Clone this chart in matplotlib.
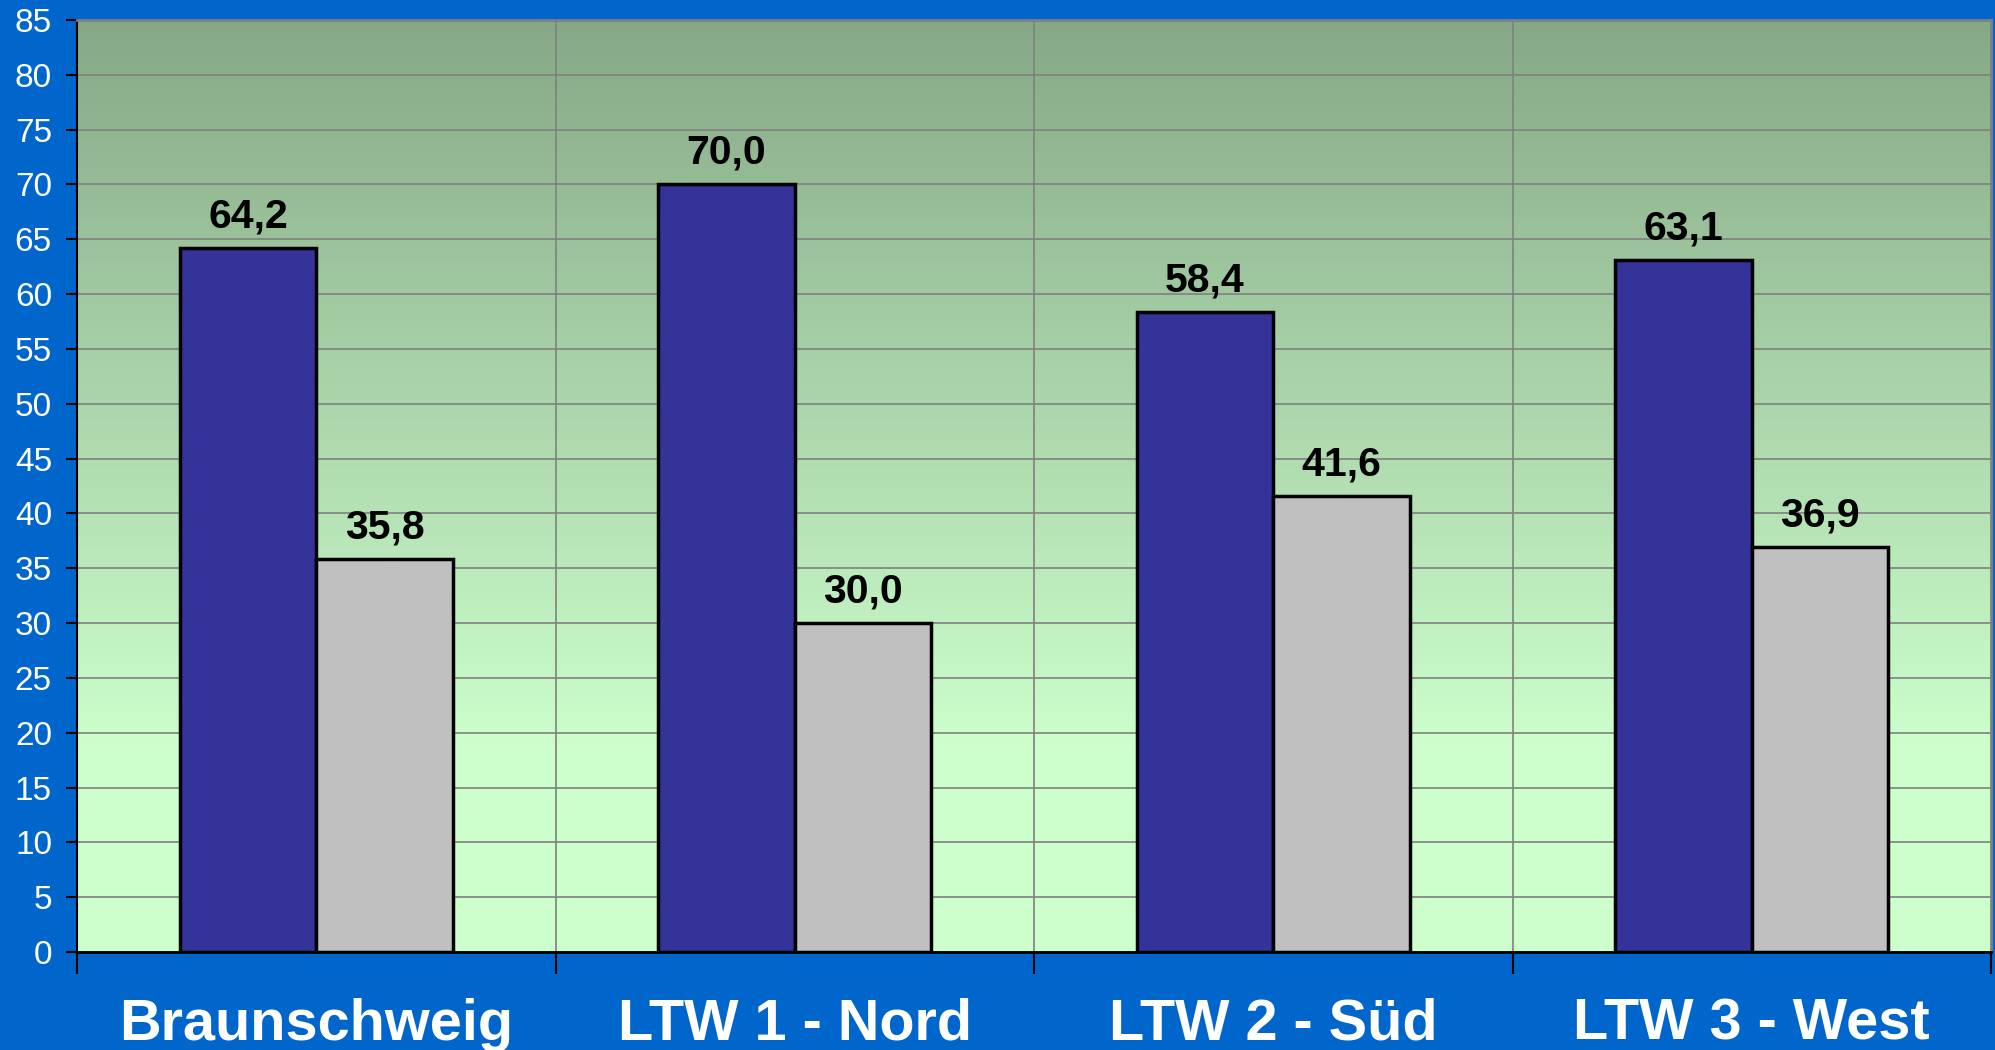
import numpy as np
import matplotlib
matplotlib.use("Agg")
import matplotlib.pyplot as plt
from matplotlib.colors import LinearSegmentedColormap

categories = ["Braunschweig", "LTW 1 - Nord", "LTW 2 - Süd", "LTW 3 - West"]
series_a = [64.2, 70.0, 58.4, 63.1]
series_b = [35.8, 30.0, 41.6, 36.9]
y_ticks = list(range(0, 90, 5))

W, H = 1995, 1050
fig = plt.figure(figsize=(W / 100, H / 100), dpi=100)
fig.patch.set_facecolor("#0066CC")

L, R, T, B = 77, 1991, 20, 952
ax = fig.add_axes([L / W, (H - B) / H, (R - L) / W, (B - T) / H])

n = len(categories)
ax.set_xlim(0, n)
ax.set_ylim(0, 85)

# gradient background
cmap = LinearSegmentedColormap.from_list("g", [(0, "#CCFFCC"), (0.22, "#CCFFCC"), (1, "#86A886")], N=256)
grad = np.linspace(0, 1, 256).reshape(-1, 1)
ax.imshow(grad, cmap=cmap, origin="lower", aspect="auto", extent=[0, n, 0, 85], zorder=0)

# grid
for yv in y_ticks:
    ax.axhline(yv, color="#808080", lw=1.2, zorder=1)
for xv in range(1, n):
    ax.axvline(xv, color="#808080", lw=1.2, zorder=1)

w = 1 / 3.5
x = np.arange(n) + 0.5
ax.bar(x - w / 2, series_a, width=w, color="#333399", edgecolor="black", lw=2.5, zorder=3)
ax.bar(x + w / 2, series_b, width=w, color="#C0C0C0", edgecolor="black", lw=2.5, zorder=3)

def fmt(v):
    return f"{v:.1f}".replace(".", ",")

for xi, a, b in zip(x, series_a, series_b):
    for xx, v in ((xi - w / 2, a), (xi + w / 2, b)):
        ax.annotate(fmt(v), (xx, v), xytext=(0, 9), textcoords="offset points",
                    ha="center", va="bottom", fontsize=29.5, fontweight="bold",
                    family="Liberation Sans", color="black", zorder=4)

# y axis
ax.set_yticks(y_ticks)
ax.set_yticklabels([str(v) for v in y_ticks], fontsize=24, color="white", family="Liberation Sans")
ax.tick_params(axis="y", direction="out", length=8, width=1.5, color="black", pad=10)

# x axis: boundary ticks as minor, labels at centers
ax.set_xticks(range(0, n + 1), minor=True)
ax.tick_params(axis="x", which="minor", direction="out", length=16, width=1.5, color="black")
ax.set_xticks(x)
ax.set_xticklabels(categories, fontsize=41.5, fontweight="bold", color="white", family="Liberation Sans")
ax.tick_params(axis="x", which="major", length=0, pad=33)

for s in ["top", "right"]:
    ax.spines[s].set_color("#808080")
    ax.spines[s].set_linewidth(2)
ax.spines["left"].set_color("black")
ax.spines["left"].set_linewidth(1.5)
ax.spines["bottom"].set_color("black")
ax.spines["bottom"].set_linewidth(2)
for s in ax.spines.values():
    s.set_zorder(5)

fig.savefig("out.png", dpi=100, facecolor=fig.get_facecolor())
